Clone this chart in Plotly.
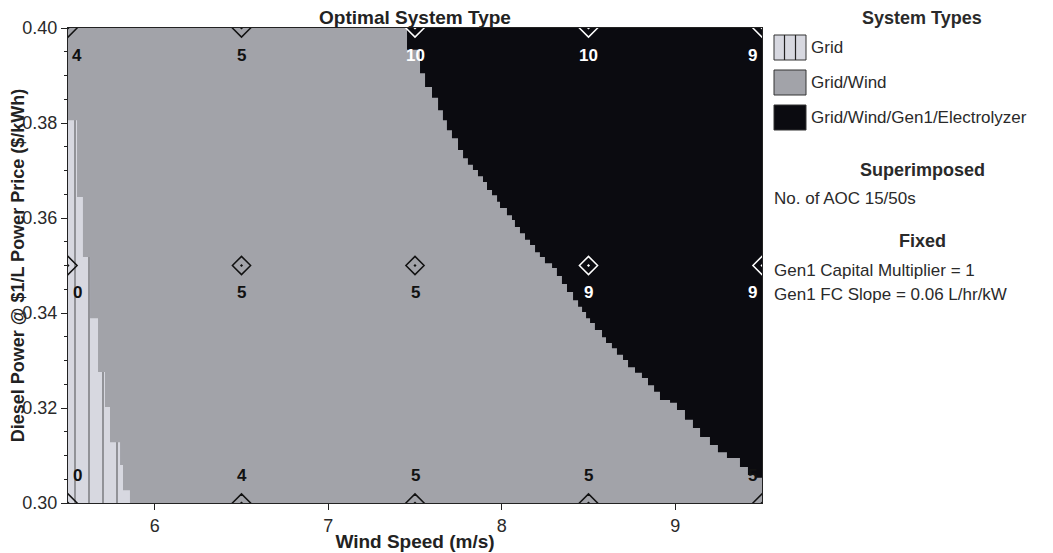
import plotly.graph_objects as go

# ---------------- data ----------------
wind_speed = [5.5, 6.5, 7.5, 8.5, 9.5]          # sensitivity values (m/s)
diesel_price = [0.30, 0.35, 0.40]                # sensitivity values ($/kWh)

# superimposed: No. of AOC 15/50s at each sensitivity point (rows by diesel price)
aoc_at_030 = [0, 4, 5, 5, 5]
aoc_at_035 = [0, 5, 5, 9, 9]
aoc_at_040 = [4, 5, 10, 10, 9]

# optimal system type at each sensitivity point
type_at_030 = ["Grid", "Grid/Wind", "Grid/Wind", "Grid/Wind", "Grid/Wind"]
type_at_035 = ["Grid", "Grid/Wind", "Grid/Wind",
               "Grid/Wind/Gen1/Electrolyzer", "Grid/Wind/Gen1/Electrolyzer"]
type_at_040 = ["Grid/Wind", "Grid/Wind", "Grid/Wind/Gen1/Electrolyzer",
               "Grid/Wind/Gen1/Electrolyzer", "Grid/Wind/Gen1/Electrolyzer"]

# "Grid" region: column edges (m/s) and top of region in each column ($/kWh)
grid_edges = [5.5, 5.552, 5.586, 5.627, 5.673, 5.713, 5.742, 5.800, 5.817, 5.857]
grid_top = [0.3806, 0.3644, 0.3518, 0.3389, 0.3276, 0.3202, 0.3128, 0.3080, 0.3027]

# "Grid/Wind/Gen1/Electrolyzer" region: column edges (m/s) and bottom of region ($/kWh)
elec_edges = [7.454, 7.529, 7.558, 7.598, 7.633, 7.661, 7.684, 7.713, 7.748, 7.777,
              7.805, 7.834, 7.863, 7.892, 7.915, 7.944, 7.973, 7.990, 8.030, 8.059,
              8.076, 8.105, 8.134, 8.163, 8.192, 8.220, 8.249, 8.290, 8.318, 8.347,
              8.376, 8.411, 8.440, 8.463, 8.486, 8.509, 8.537, 8.578, 8.601, 8.635,
              8.664, 8.699, 8.728, 8.768, 8.808, 8.843, 8.878, 8.912, 8.970, 9.010,
              9.056, 9.102, 9.143, 9.200, 9.246, 9.298, 9.373, 9.419, 9.460, 9.5]
elec_bottom = [0.3954, 0.3905, 0.3876, 0.3853, 0.3827, 0.3806, 0.3785, 0.3768, 0.3743, 0.3726,
               0.3712, 0.3701, 0.3688, 0.3676, 0.3659, 0.3648, 0.3634, 0.3621, 0.3606, 0.3596,
               0.3581, 0.3568, 0.3554, 0.3543, 0.3528, 0.3518, 0.3505, 0.3495, 0.3478, 0.3461,
               0.3444, 0.3427, 0.3413, 0.3402, 0.3389, 0.3379, 0.3364, 0.3349, 0.3337, 0.3326,
               0.3312, 0.3301, 0.3286, 0.3274, 0.3263, 0.3248, 0.3234, 0.3217, 0.3211, 0.3196,
               0.3175, 0.3158, 0.3139, 0.3122, 0.3107, 0.3095, 0.3076, 0.3059, 0.3053]

system_types = ["Grid", "Grid/Wind", "Grid/Wind/Gen1/Electrolyzer"]
superimposed_label = "No. of AOC 15/50s"
fixed_labels = ["Gen1 Capital Multiplier = 1", "Gen1 FC Slope = 0.06 L/hr/kW"]

# ---------------- style ----------------
C_GRID = "#d7d8e0"
C_WIND = "#a2a3a9"
C_ELEC = "#0b0b10"
TYPE_COLOR = {"Grid": C_GRID, "Grid/Wind": C_WIND, "Grid/Wind/Gen1/Electrolyzer": C_ELEC}
FONT = "Liberation Sans, Arial, sans-serif"
TXT = "#2a2a2a"

OFF = 8                      # page body margin of the html page
WIN_W, WIN_H = 1053, 553
W, H = WIN_W - OFF, WIN_H - OFF
# desired plot area in window pixels
PX0, PX1, PY0, PY1 = 68, 762, 28, 503
L, T = PX0 - OFF, PY0 - OFF
R, B = OFF + W - PX1, OFF + H - PY1
PW, PH = PX1 - PX0, PY1 - PY0

x_lo, x_hi = wind_speed[0], wind_speed[-1]
y_lo, y_hi = diesel_price[0], diesel_price[-1]

fig = go.Figure()

# Grid region (hatched, stepped)
gx = [grid_edges[0]] + grid_edges[:-1] + [grid_edges[-1]]
gy = [y_lo] + grid_top + [y_lo]
fig.add_trace(go.Scatter(
    x=gx, y=gy, mode="lines", line=dict(shape="hv", width=0, color=C_GRID),
    fill="toself", fillcolor=C_GRID,
    fillpattern=dict(shape="|", size=14, solidity=0.1, fgcolor="#111111", bgcolor=C_GRID),
    name=system_types[0], showlegend=False, hoverinfo="skip"))

# Grid/Wind/Gen1/Electrolyzer region (stepped)
ex = [elec_edges[0]] + elec_edges[:-1] + [elec_edges[-1]]
ey = [y_hi] + elec_bottom + [y_hi]
fig.add_trace(go.Scatter(
    x=ex, y=ey, mode="lines", line=dict(shape="hv", width=0, color=C_ELEC),
    fill="toself", fillcolor=C_ELEC,
    name=system_types[2], showlegend=False, hoverinfo="skip"))

# superimposed markers and values
rows = [(diesel_price[0], aoc_at_030, type_at_030),
        (diesel_price[1], aoc_at_035, type_at_035),
        (diesel_price[2], aoc_at_040, type_at_040)]
for price, vals, types in rows:
    cols = ["white" if t == system_types[2] else "#111111" for t in types]
    fig.add_trace(go.Scatter(
        x=wind_speed, y=[price] * len(wind_speed), mode="markers",
        marker=dict(symbol="diamond-open-dot", size=14, color=cols,
                    line=dict(width=1.5, color=cols)),
        cliponaxis=True, showlegend=False, hoverinfo="skip"))
    for i, (ws, v) in enumerate(zip(wind_speed, vals)):
        xs = 9 if i == 0 else (-10 if i == len(wind_speed) - 1 else 0)
        ys = 28 if price == y_lo else -27
        fig.add_annotation(x=ws, y=price, xref="x", yref="y", text=str(v),
                           showarrow=False, xshift=xs, yshift=ys,
                           font=dict(family=FONT, size=17, color=cols[i], weight="bold"))

# ---------------- manual legend (paper coords from window pixels) ----------------
def px(xp):
    return (xp - PX0) / PW

def py(yp):
    return (PY1 - yp) / PH

def text(xp, yp, s, bold=False, anchor="left", size=17):
    fig.add_annotation(x=px(xp), y=py(yp), xref="paper", yref="paper", text=s,
                       showarrow=False, xanchor=anchor, yanchor="middle",
                       font=dict(family=FONT, size=size, color=TXT,
                                 weight="bold" if bold else "normal"))

CX = 922
text(CX, 18, "System Types", bold=True, anchor="center", size=18)
box_tops = [35, 70, 105]
for k, name in enumerate(system_types):
    y0, y1 = box_tops[k], box_tops[k] + 25
    fig.add_shape(type="rect", xref="paper", yref="paper",
                  x0=px(774), x1=px(806), y0=py(y1), y1=py(y0),
                  fillcolor=TYPE_COLOR[name], line=dict(color="#333333", width=1))
    if name == "Grid":
        for xl in (784.5, 795.5):
            fig.add_shape(type="line", xref="paper", yref="paper",
                          x0=px(xl), x1=px(xl), y0=py(y1), y1=py(y0),
                          line=dict(color="#222222", width=1.2))
    text(809, (y0 + y1) / 2, name)
text(CX, 170, "Superimposed", bold=True, anchor="center", size=18)
text(772, 198, superimposed_label)
text(CX, 241, "Fixed", bold=True, anchor="center", size=18)
text(772, 270, fixed_labels[0])
text(772, 295, fixed_labels[1])

fig.update_layout(
    width=W, height=H,
    margin=dict(l=L, r=R, t=T, b=B, autoexpand=False),
    paper_bgcolor="white", plot_bgcolor=C_WIND,
    title=dict(text="<b>Optimal System Type</b>", x=0.5, xref="paper",
               y=1 - (17 - OFF) / H, yref="container", yanchor="middle",
               font=dict(family=FONT, size=19, color="#222222")),
    showlegend=False,
)
fig.update_xaxes(
    range=[x_lo, x_hi], dtick=1, tick0=6, ticks="outside", ticklen=6, tickcolor="#222",
    showline=True, linecolor="#222", linewidth=1, mirror=True,
    showgrid=False, zeroline=False, automargin=False,
    tickfont=dict(family=FONT, size=18, color=TXT),
    title=dict(text="<b>Wind Speed (m/s)</b>", standoff=0,
               font=dict(family=FONT, size=19, color="#222222")))
fig.update_yaxes(
    range=[y_lo, y_hi], dtick=0.02, tickformat=".2f", ticks="outside", ticklen=6,
    tickcolor="#222", showline=True, linecolor="#222", linewidth=1, mirror=True,
    showgrid=False, zeroline=False, automargin=False,
    minor=dict(dtick=0.005, ticks="outside", ticklen=3, tickcolor="#222", showgrid=False),
    tickfont=dict(family=FONT, size=18, color=TXT),
    title=dict(text="<b>Diesel Power @ $1/L Power Price ($/kWh)</b>", standoff=2,
               font=dict(family=FONT, size=18, color="#222222")))

fig.write_html("out.html")
